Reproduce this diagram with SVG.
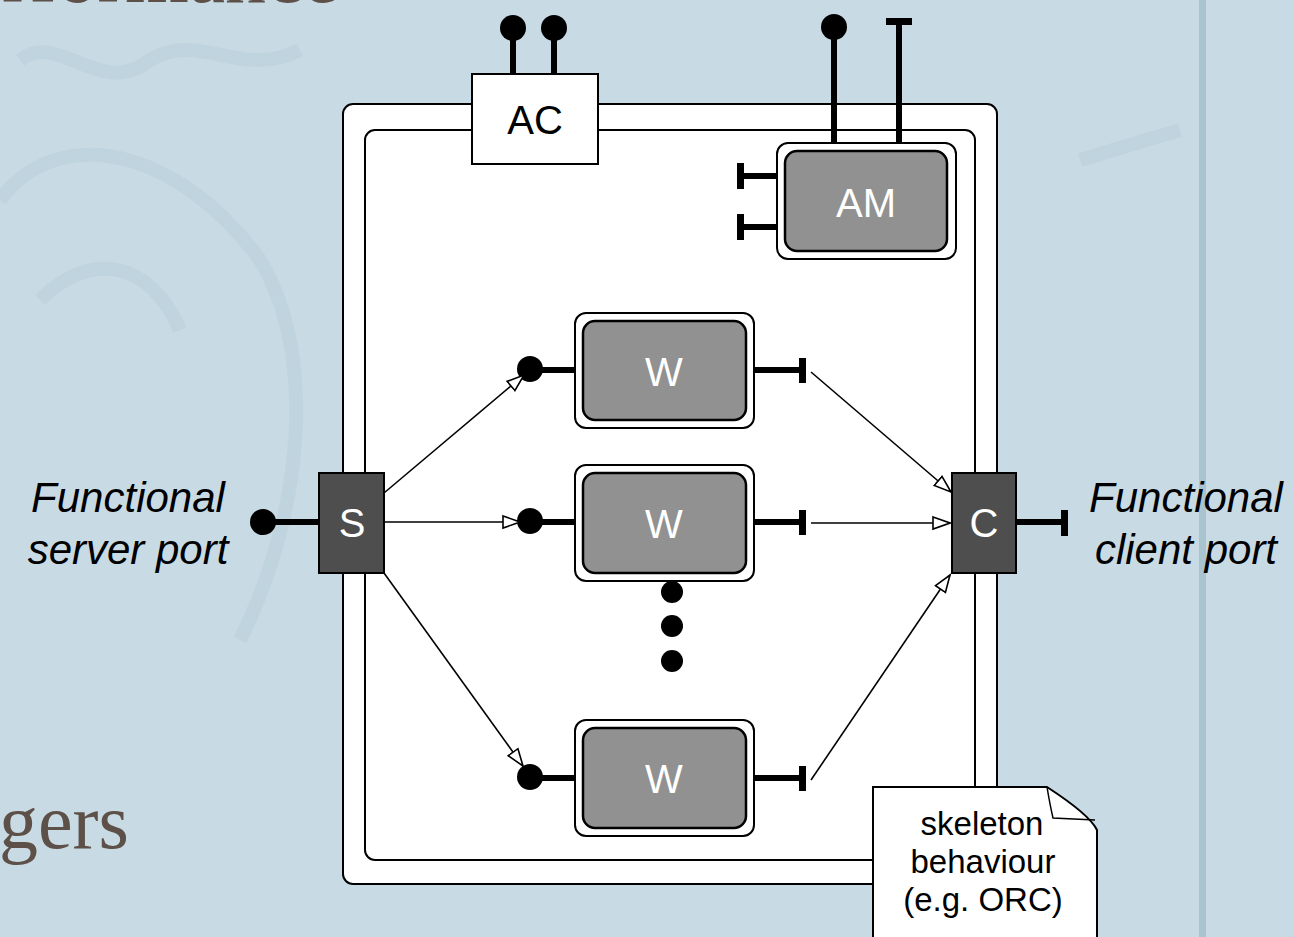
<svg xmlns="http://www.w3.org/2000/svg" width="1294" height="937" viewBox="0 0 1294 937">
<defs>
<style>
.bgtxt{font-family:"Liberation Serif",serif;fill:#5d5048}
.lbl{font-family:"Liberation Sans",Arial,sans-serif;font-size:40px;text-anchor:middle}
.side{font-family:"Liberation Sans",Arial,sans-serif;font-size:42px;font-style:italic;text-anchor:middle;fill:#000}
.note{font-family:"Liberation Sans",Arial,sans-serif;font-size:33px;text-anchor:middle;fill:#000}
.frame{fill:#fff;stroke:#000;stroke-width:2}
.outerW{fill:#fff;stroke:#000;stroke-width:2}
.innerW{fill:#919191;stroke:#000;stroke-width:2.5}
.dark{fill:#4e4e4e;stroke:#000;stroke-width:2}
.port{stroke:#000;stroke-width:6;fill:none}
.bar{fill:#000}
.dot{fill:#000}
.conn{stroke:#000;stroke-width:1.6;fill:none}
</style>
<marker id="tri" markerUnits="userSpaceOnUse" markerWidth="20" markerHeight="16" refX="18" refY="7" orient="auto" viewBox="0 0 20 14">
<path d="M1,1 L18,7 L1,13 Z" fill="#fff" stroke="#000" stroke-width="1.6"/>
</marker>
</defs>

<g id="background">
<rect x="0" y="0" width="1294" height="937" fill="#c8dbe4"/>
<g fill="none" stroke="#bcd2dd" stroke-width="14" opacity="0.7">
<path d="M20,60 C60,30 100,100 150,60 C200,30 240,80 300,50"/>
<path d="M0,200 C60,120 180,150 260,260 C320,360 300,520 240,640"/>
<path d="M40,300 C90,250 150,260 180,330"/>
<path d="M1080,160 L1180,130"/>
</g>
<rect x="1199" y="0" width="7" height="937" fill="#a9c3cf"/>
<text class="bgtxt" x="2" y="2" font-size="82">rformance</text>
<text class="bgtxt" x="-1" y="848" font-size="78">gers</text>
</g>

<g id="skeleton">
<rect class="frame" x="343" y="104" width="654" height="780" rx="10"/>
<rect class="frame" x="365" y="130" width="610" height="730" rx="10"/>
</g>

<g id="AC">
<line class="port" x1="513" y1="74" x2="513" y2="30"/>
<line class="port" x1="554" y1="74" x2="554" y2="30"/>
<circle class="dot" cx="513" cy="28" r="13"/>
<circle class="dot" cx="554" cy="28" r="13"/>
<rect x="472" y="74" width="126" height="90" fill="#fff" stroke="#000" stroke-width="2"/>
<text class="lbl" x="535" y="134" fill="#000">AC</text>
</g>

<g id="AM">
<line class="port" x1="834" y1="143" x2="834" y2="30"/>
<circle class="dot" cx="834" cy="27" r="13"/>
<line class="port" x1="899" y1="143" x2="899" y2="22"/>
<rect class="bar" x="886" y="18" width="26" height="7"/>
<line class="port" x1="777" y1="176" x2="741" y2="176"/>
<rect class="bar" x="737" y="163" width="7" height="26"/>
<line class="port" x1="777" y1="227" x2="741" y2="227"/>
<rect class="bar" x="737" y="214" width="7" height="26"/>
<rect class="outerW" x="777" y="143" width="179" height="116" rx="11"/>
<rect class="innerW" x="785" y="151" width="162" height="100" rx="12"/>
<text class="lbl" x="866" y="217" fill="#fff" font-size="42">AM</text>
</g>

<g id="W1">
<line class="port" x1="575" y1="370" x2="532" y2="370"/>
<circle class="dot" cx="530" cy="369" r="13"/>
<line class="port" x1="754" y1="370" x2="800" y2="370"/>
<rect class="bar" x="799" y="358" width="7" height="25"/>
<rect class="outerW" x="575" y="313" width="179" height="115" rx="11"/>
<rect class="innerW" x="583" y="321" width="163" height="99" rx="12"/>
<text class="lbl" x="664" y="386" fill="#fff">W</text>
</g>

<g id="W2">
<line class="port" x1="575" y1="522" x2="532" y2="522"/>
<circle class="dot" cx="530" cy="521" r="13"/>
<line class="port" x1="754" y1="522" x2="800" y2="522"/>
<rect class="bar" x="799" y="510" width="7" height="25"/>
<rect class="outerW" x="575" y="465" width="179" height="116" rx="11"/>
<rect class="innerW" x="583" y="473" width="163" height="100" rx="12"/>
<text class="lbl" x="664" y="538" fill="#fff">W</text>
</g>

<g id="ellipsis">
<circle class="dot" cx="672" cy="592" r="11"/>
<circle class="dot" cx="672" cy="626" r="11"/>
<circle class="dot" cx="672" cy="661" r="11"/>
</g>

<g id="W3">
<line class="port" x1="575" y1="778" x2="532" y2="778"/>
<circle class="dot" cx="530" cy="777" r="13"/>
<line class="port" x1="754" y1="778" x2="800" y2="778"/>
<rect class="bar" x="799" y="766" width="7" height="25"/>
<rect class="outerW" x="575" y="720" width="179" height="116" rx="11"/>
<rect class="innerW" x="583" y="728" width="163" height="100" rx="12"/>
<text class="lbl" x="664" y="793" fill="#fff">W</text>
</g>

<g id="S">
<line class="port" x1="319" y1="522" x2="265" y2="522"/>
<circle class="dot" cx="263" cy="522" r="13"/>
<rect class="dark" x="319" y="473" width="65" height="100"/>
<text class="lbl" x="352" y="537" fill="#fff" font-size="42">S</text>
</g>

<g id="C">
<line class="port" x1="1016" y1="522" x2="1063" y2="522"/>
<rect class="bar" x="1061" y="510" width="7" height="26"/>
<rect class="dark" x="952" y="473" width="64" height="100"/>
<text class="lbl" x="984" y="537" fill="#fff" font-size="42">C</text>
</g>

<g id="connectors">
<line class="conn" x1="384" y1="493" x2="524" y2="375" marker-end="url(#tri)"/>
<line class="conn" x1="384" y1="522" x2="520" y2="522" marker-end="url(#tri)"/>
<line class="conn" x1="384" y1="573" x2="523" y2="766" marker-end="url(#tri)"/>
<line class="conn" x1="811" y1="372" x2="951" y2="492" marker-end="url(#tri)"/>
<line class="conn" x1="811" y1="523" x2="950" y2="523" marker-end="url(#tri)"/>
<line class="conn" x1="811" y1="780" x2="950" y2="575" marker-end="url(#tri)"/>
</g>

<g id="labels">
<text class="side" x="128" y="512">Functional</text>
<text class="side" x="128" y="564">server port</text>
<text class="side" x="1186" y="512">Functional</text>
<text class="side" x="1186" y="564">client port</text>
</g>

<g id="note">
<path d="M873,787 L1047,787 Q1090,815 1097,830 L1097,940 L873,940 Z" fill="#fff" stroke="#000" stroke-width="2"/>
<path d="M1047,787 Q1050,805 1053,818 L1095,820" fill="none" stroke="#000" stroke-width="1.5"/>
<text class="note" x="982" y="835">skeleton</text>
<text class="note" x="983" y="873">behaviour</text>
<text class="note" x="983" y="911">(e.g. ORC)</text>
</g>
</svg>
